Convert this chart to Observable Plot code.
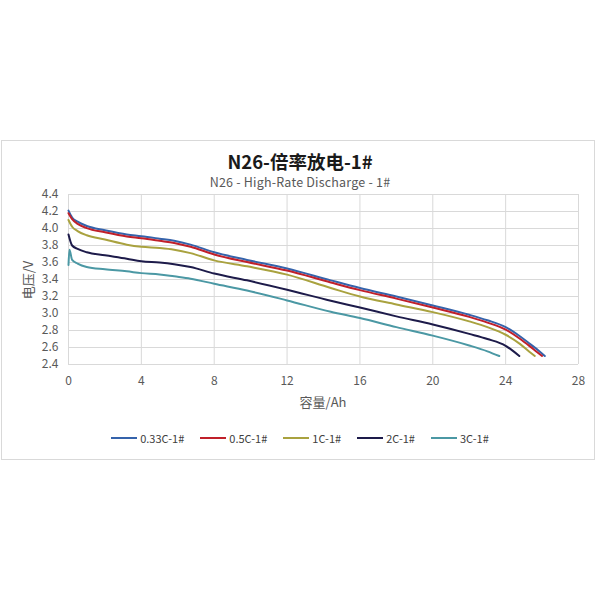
<!DOCTYPE html>
<html>
<head>
<meta charset="utf-8">
<script src="https://cdn.jsdelivr.net/npm/d3@7"></script>
<script src="https://cdn.jsdelivr.net/npm/@observablehq/plot@0.6"></script>
<style>
  html, body { margin: 0; padding: 0; background: #fff; }
  #page { position: relative; width: 600px; height: 600px; font-family: "Noto Sans CJK SC", "Noto Sans", sans-serif; }
  #frame { position: absolute; left: 1px; top: 140px; width: 592px; height: 318px; border: 1px solid #d9d9d9; }
  #title { position: absolute; left: 0; width: 600px; top: 150px; text-align: center; font-size: 18.5px; font-weight: bold; color: #1a1a1a; line-height: 22px; }
  #subtitle { position: absolute; left: 0; width: 600px; top: 174px; text-align: center; font-size: 12.5px; letter-spacing: 0.2px; color: #595959; line-height: 16px; }
  #chart { position: absolute; left: 0; top: 180px; }
  #ylabel { position: absolute; left: 28px; top: 280px; transform: translate(-50%, -50%) rotate(-90deg); font-size: 13px; color: #595959; white-space: nowrap; line-height: 14px; }
  #xlabel { position: absolute; left: 323px; top: 402px; transform: translate(-50%, -50%); font-size: 13px; color: #595959; white-space: nowrap; line-height: 14px; }
  #legend { position: absolute; left: 0; width: 600px; top: 430px; display: flex; justify-content: center; gap: 16px; font-size: 11px; color: #404040; line-height: 16px; }
  .item { display: flex; align-items: center; gap: 3px; }
  .swatch { width: 26px; height: 2px; }
</style>
</head>
<body>
<div id="page">
  <div id="frame"></div>
  <div id="title">N26-倍率放电-1#</div>
  <div id="subtitle">N26 - High-Rate Discharge - 1#</div>
  <div id="chart"></div>
  <div id="ylabel">电压/V</div>
  <div id="xlabel">容量/Ah</div>
  <div id="legend"></div>
</div>
<script>
// Series
const seriesNames = ["0.33C-1#", "0.5C-1#", "1C-1#", "2C-1#", "3C-1#"];
const seriesColors = ["#3563ab", "#c0202a", "#a9a23f", "#1d1b4a", "#4b98a4"];

// Capacity (Ah) and voltage (V) per series
const cap033 = [0, 0.2, 0.5, 1, 2, 3.2, 4, 5, 5.8, 6.7, 8, 9.8, 12, 14.4, 16, 18, 20, 22, 23, 24, 24.8, 25.35, 25.8, 26.15];
const volt033 = [4.21, 4.13, 4.08, 4.03, 3.98, 3.93, 3.91, 3.88, 3.855, 3.81, 3.72, 3.63, 3.53, 3.39, 3.30, 3.20, 3.095, 2.985, 2.92, 2.84, 2.73, 2.64, 2.565, 2.50];

const cap05 = [0, 0.2, 0.5, 1, 2, 3.2, 4, 5, 5.8, 6.7, 8, 9.8, 12, 14.4, 16, 18, 20, 22, 23, 24, 24.8, 25.35, 25.7, 26.0];
const volt05 = [4.18, 4.11, 4.055, 4.005, 3.955, 3.905, 3.885, 3.855, 3.83, 3.785, 3.695, 3.605, 3.505, 3.365, 3.275, 3.175, 3.07, 2.96, 2.893, 2.81, 2.70, 2.61, 2.55, 2.50];

const cap1 = [0, 0.2, 0.5, 1, 2, 3.2, 4, 5, 5.8, 6.7, 8, 9.8, 12, 14.4, 16, 18, 20, 22, 23, 24, 24.8, 25.3, 25.6];
const volt1 = [4.10, 4.02, 3.97, 3.92, 3.87, 3.81, 3.785, 3.77, 3.75, 3.71, 3.625, 3.555, 3.457, 3.30, 3.20, 3.107, 3.016, 2.907, 2.84, 2.75, 2.64, 2.55, 2.50];

const cap2 = [0, 0.2, 0.5, 1, 2, 3.2, 4, 5, 5.8, 6.7, 8, 9.8, 12, 14.4, 16, 18, 20, 22, 23, 24, 24.4, 24.75];
const volt2 = [3.93, 3.80, 3.76, 3.72, 3.685, 3.645, 3.615, 3.60, 3.58, 3.547, 3.47, 3.39, 3.28, 3.15, 3.07, 2.966, 2.87, 2.76, 2.70, 2.62, 2.56, 2.50];

const cap3 = [0, 0.05, 0.2, 0.5, 1, 2, 3.2, 4, 5, 5.8, 6.7, 8, 9.8, 12, 14.4, 16, 18, 20, 22, 23, 23.65];
const volt3 = [3.57, 3.75, 3.63, 3.587, 3.547, 3.52, 3.496, 3.475, 3.46, 3.437, 3.41, 3.35, 3.27, 3.154, 3.02, 2.946, 2.84, 2.74, 2.624, 2.555, 2.50];

// Axis ticks
const xTicks = [0, 4, 8, 12, 16, 20, 24, 28];
const yTicks = [2.4, 2.6, 2.8, 3.0, 3.2, 3.4, 3.6, 3.8, 4.0, 4.2, 4.4];

const caps = [cap033, cap05, cap1, cap2, cap3];
const volts = [volt033, volt05, volt1, volt2, volt3];
const rows = [];
seriesNames.forEach((name, i) => {
  caps[i].forEach((c, j) => rows.push({series: name, cap: c, volt: volts[i][j]}));
});

const chart = Plot.plot({
  width: 600,
  height: 210,
  marginLeft: 68,
  marginRight: 22,
  marginTop: 14,
  marginBottom: 26,
  style: {fontFamily: "'Noto Sans CJK SC', 'Noto Sans', sans-serif", fontSize: "12px", color: "#595959", background: "transparent", overflow: "visible"},
  x: {domain: [0, 28], ticks: xTicks},
  y: {domain: [2.4, 4.4], ticks: yTicks, tickFormat: d3.format(".1f")},
  color: {domain: seriesNames, range: seriesColors},
  marks: [
    Plot.gridX(xTicks, {stroke: "#d9d9d9", strokeOpacity: 1}),
    Plot.gridY(yTicks, {stroke: "#d9d9d9", strokeOpacity: 1}),
    Plot.axisX(xTicks, {tickSize: 0, tickPadding: 12, fontSize: 12, label: null}),
    Plot.axisY(yTicks, {tickSize: 0, tickPadding: 10, fontSize: 12, tickFormat: d3.format(".1f"), label: null}),
    Plot.line(rows, {x: "cap", y: "volt", z: "series", stroke: "series", strokeWidth: 2, curve: "monotone-x"})
  ]
});
document.getElementById("chart").appendChild(chart);

const legend = document.getElementById("legend");
seriesNames.forEach((name, i) => {
  const item = document.createElement("div");
  item.className = "item";
  const sw = document.createElement("span");
  sw.className = "swatch";
  sw.style.background = seriesColors[i];
  const tx = document.createElement("span");
  tx.textContent = name;
  item.appendChild(sw);
  item.appendChild(tx);
  legend.appendChild(item);
});
</script>
</body>
</html>
